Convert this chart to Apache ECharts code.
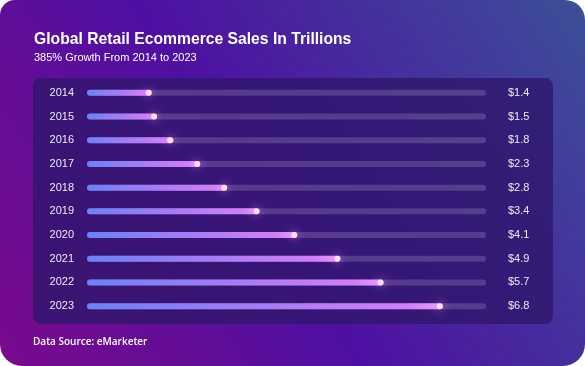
<!DOCTYPE html>
<html>
<head>
<meta charset="utf-8">
<script src="https://cdn.jsdelivr.net/npm/echarts@6/dist/echarts.min.js"></script>
<style>
html,body{margin:0;padding:0;background:#ffffff;}
#chart{width:585px;height:366px;}
</style>
</head>
<body>
<div id="chart"></div>
<script>
const years = ['2014','2015','2016','2017','2018','2019','2020','2021','2022','2023'];
const sales = [1.4, 1.5, 1.8, 2.3, 2.8, 3.4, 4.1, 4.9, 5.7, 6.8];
const valueLabels = ['$1.4','$1.5','$1.8','$2.3','$2.8','$3.4','$4.1','$4.9','$5.7','$6.8'];
const titleText = 'Global Retail Ecommerce Sales In Trillions';
const subtitleText = '385% Growth From 2014 to 2023';
const sourceText = 'Data Source: eMarketer';

const chart = echarts.init(document.getElementById('chart'), null, {renderer: 'canvas'});
const font = '"Liberation Sans", Arial, sans-serif';

chart.setOption({
  animation: false,
  backgroundColor: 'transparent',
  graphic: [
    {
      type: 'rect', z: -10, silent: true,
      shape: {x: 0, y: 0, width: 585, height: 366, r: [15, 20, 22, 22]},
      style: {
        fill: new echarts.graphic.LinearGradient(0, 1, 1, 0, [
          {offset: 0, color: '#7a0a8c'},
          {offset: 0.45, color: '#4e10a2'},
          {offset: 1, color: '#3c5098'}
        ])
      }
    },
    {
      type: 'rect', z: -9, silent: true,
      shape: {x: 33, y: 78, width: 520, height: 246, r: 8},
      style: {fill: 'rgba(48,22,108,0.8)'}
    },
    {
      type: 'text', z: 5, left: 33, top: 337,
      style: {text: sourceText, fill: '#ffffff', font: '600 10px "Open Sans", sans-serif'}
    }
  ],
  title: {
    text: titleText,
    subtext: subtitleText,
    left: 29, top: 27,
    itemGap: 4,
    textStyle: {color: '#ffffff', fontFamily: font, fontWeight: 'bold', fontSize: 15.7},
    subtextStyle: {color: '#ffffff', fontFamily: font, fontSize: 11}
  },
  grid: {left: 87, right: 99, top: 81, height: 237, containLabel: false},
  xAxis: {
    type: 'value', min: 0.2, max: 7.6,
    show: false
  },
  yAxis: [
    {
      type: 'category', data: years, inverse: true,
      axisLine: {show: false}, axisTick: {show: false}, splitLine: {show: false},
      axisLabel: {color: '#ecebf5', fontFamily: font, fontSize: 11, margin: 13}
    },
    {
      type: 'category', data: valueLabels, inverse: true, position: 'right',
      axisLine: {show: false}, axisTick: {show: false}, splitLine: {show: false},
      axisLabel: {color: '#ecebf5', fontFamily: font, fontSize: 11, margin: 22, align: 'left'}
    }
  ],
  series: [
    {
      type: 'bar', data: sales, barWidth: 6,
      showBackground: true,
      backgroundStyle: {color: 'rgba(255,255,255,0.16)', borderRadius: 3},
      itemStyle: {
        borderRadius: 3,
        color: new echarts.graphic.LinearGradient(0, 0, 1, 0, [
          {offset: 0, color: '#6a82f6'},
          {offset: 0.5, color: '#a67cf3'},
          {offset: 0.9, color: '#d27ef7'},
          {offset: 1, color: '#e89cf9'}
        ])
      }
    },
    {
      type: 'scatter', data: sales.map((v, i) => [v, i]),
      symbol: 'circle', symbolSize: 6, symbolOffset: [-3, 0], z: 5,
      itemStyle: {color: '#fff4ff', shadowBlur: 9, shadowColor: '#ff80ff'}
    }
  ]
});
</script>
</body>
</html>
